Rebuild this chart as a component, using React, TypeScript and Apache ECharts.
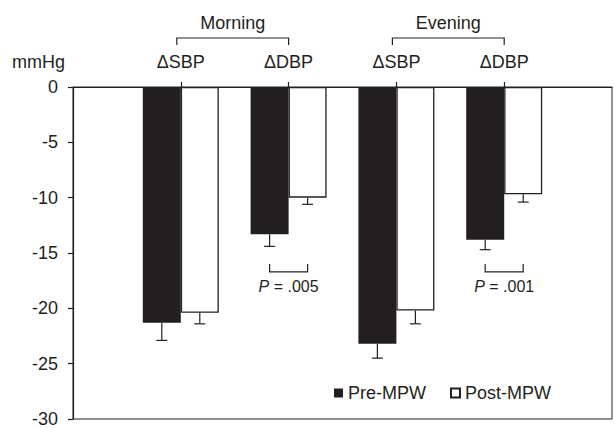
import React, { useEffect, useRef } from "react";
import * as echarts from "echarts";

// ---- data ----
const categories = ["start", "M-SBP", "M-DBP", "E-SBP", "E-DBP", "end"];
const xLabels = ["", "ΔSBP", "ΔDBP", "ΔSBP", "ΔDBP", ""];
const preMPW = [null, -21.3, -13.3, -23.2, -13.8, null];
const postMPW = [null, -20.4, -10.0, -20.2, -9.7, null];
const preSE = [null, 1.6, 1.1, 1.3, 0.9, null];
const postSE = [null, 1.0, 0.6, 1.2, 0.7, null];
const yTicks = [-30, -25, -20, -15, -10, -5, 0];
const groupNames = ["Morning", "Evening"];
const groupStart = [1, 3];
const groupEnd = [2, 4];
const pCats = [2, 4];
const pValues = [".005", ".001"];

// ---- styles ----
const INK = "#231f20";
const FONT = "Liberation Sans, Arial, Helvetica, sans-serif";
const BAR_W = 38;
const CAP = 5.5;
const P_TOP = -16.0;
const P_BOTTOM = -16.7;
const P_TEXT = -18.0;

export default function App() {
  const ref = useRef<HTMLDivElement>(null);
  useEffect(() => {
    if (!ref.current) return;
    const chart = echarts.init(ref.current, null, { renderer: "svg" });

    const errData: number[][] = [];
    categories.forEach((_, i) => {
      if (preMPW[i] != null) errData.push([i, preMPW[i] as number, preSE[i] as number, -1]);
      if (postMPW[i] != null) errData.push([i, postMPW[i] as number, postSE[i] as number, 1]);
    });

    const option: any = {
      animation: false,
      backgroundColor: "#ffffff",
      textStyle: { fontFamily: FONT, color: INK },
      grid: {
        left: 73,
        top: 87,
        width: 547.5,
        height: 335,
        show: true,
        borderColor: INK,
        borderWidth: 1,
        backgroundColor: "transparent",
      },
      legend: {
        left: 329,
        top: 379,
        itemWidth: 9,
        itemHeight: 9,
        itemGap: 24,
        icon: "rect",
        data: ["Pre-MPW", "Post-MPW"],
        textStyle: { fontSize: 18, color: INK, fontFamily: FONT },
      },
      xAxis: {
        type: "category",
        data: categories,
        position: "top",
        boundaryGap: false,
        axisLine: { lineStyle: { color: INK, width: 1.2 } },
        axisTick: {
          length: 5,
          interval: (index: number) => index >= 1 && index <= 4,
          lineStyle: { color: INK, width: 1.2 },
        },
        axisLabel: {
          interval: 0,
          margin: 16,
          fontSize: 18,
          color: INK,
          fontFamily: FONT,
          formatter: (_v: string, idx: number) => xLabels[idx],
        },
        splitLine: { show: false },
      },
      yAxis: {
        type: "value",
        min: yTicks[0],
        max: yTicks[yTicks.length - 1],
        interval: 5,
        axisLine: { show: true, lineStyle: { color: INK, width: 1.2 } },
        axisTick: { show: true, length: 5, lineStyle: { color: INK, width: 1.2 } },
        axisLabel: { margin: 15, fontSize: 18, color: INK, fontFamily: FONT },
        splitLine: { show: false },
      },
      graphic: [
        {
          type: "text",
          left: 12,
          top: 53,
          style: { text: "mmHg", font: `18px ${FONT}`, fill: INK },
        },
      ],
      series: [
        {
          name: "Pre-MPW",
          type: "bar",
          data: preMPW,
          barWidth: BAR_W,
          barGap: "0%",
          itemStyle: { color: INK },
        },
        {
          name: "Post-MPW",
          type: "bar",
          data: postMPW,
          barWidth: BAR_W,
          itemStyle: { color: "#ffffff", borderColor: INK, borderWidth: 1.3 },
        },
        {
          type: "custom",
          coordinateSystem: "cartesian2d",
          data: errData,
          encode: { x: 0, y: 1 },
          clip: false,
          z: 5,
          renderItem: (_p: any, api: any) => {
            const x = api.value(0);
            const m = api.value(1);
            const se = api.value(2);
            const side = api.value(3);
            const p0 = api.coord([x, m]);
            const p1 = api.coord([x, m - se]);
            const cx = p0[0] + (side * BAR_W) / 2;
            return {
              type: "group",
              children: [
                { type: "line", shape: { x1: cx, y1: p0[1], x2: cx, y2: p1[1] }, style: { stroke: INK, lineWidth: 1.2 } },
                { type: "line", shape: { x1: cx - CAP, y1: p1[1], x2: cx + CAP, y2: p1[1] }, style: { stroke: INK, lineWidth: 1.2 } },
              ],
            };
          },
        },
        {
          type: "custom",
          coordinateSystem: "cartesian2d",
          data: pCats.map((c) => [c, P_TOP]),
          encode: { x: 0, y: 1 },
          clip: false,
          renderItem: (params: any, api: any) => {
            const c = api.value(0);
            const top = api.coord([c, P_TOP]);
            const bot = api.coord([c, P_BOTTOM]);
            const txt = api.coord([c, P_TEXT]);
            const l = top[0] - BAR_W / 2;
            const r = top[0] + BAR_W / 2;
            return {
              type: "group",
              children: [
                {
                  type: "polyline",
                  shape: { points: [[l, top[1]], [l, bot[1]], [r, bot[1]], [r, top[1]]] },
                  style: { stroke: INK, lineWidth: 1.2, fill: null },
                },
                {
                  type: "text",
                  x: txt[0],
                  y: txt[1],
                  style: {
                    text: `{i|P} = ${pValues[params.dataIndex]}`,
                    align: "center",
                    verticalAlign: "middle",
                    font: `16px ${FONT}`,
                    fill: INK,
                    rich: { i: { fontStyle: "italic", fontSize: 16, fontFamily: FONT, fill: INK } },
                  },
                },
              ],
            };
          },
        },
        {
          type: "custom",
          coordinateSystem: "cartesian2d",
          data: groupStart.map((s, i) => [s, 0, groupEnd[i]]),
          encode: { x: 0, y: 1 },
          clip: false,
          renderItem: (params: any, api: any) => {
            const a = api.coord([api.value(0), 0]);
            const b = api.coord([api.value(2), 0]);
            const l = a[0] - 4;
            const r = b[0];
            const yTop = a[1] - 49;
            const yBot = a[1] - 42;
            return {
              type: "group",
              children: [
                {
                  type: "polyline",
                  shape: { points: [[l, yBot], [l, yTop], [r, yTop], [r, yBot]] },
                  style: { stroke: INK, lineWidth: 1.2, fill: null },
                },
                {
                  type: "text",
                  x: (l + r) / 2,
                  y: a[1] - 64,
                  style: {
                    text: groupNames[params.dataIndex],
                    align: "center",
                    verticalAlign: "middle",
                    font: `18px ${FONT}`,
                    fill: INK,
                  },
                },
              ],
            };
          },
        },
      ],
    };
    chart.setOption(option);
    return () => chart.dispose();
  }, []);

  return (
    <div
      ref={ref}
      style={{ position: "fixed", left: 0, top: 0, width: 615, height: 428, background: "#fff" }}
    />
  );
}
